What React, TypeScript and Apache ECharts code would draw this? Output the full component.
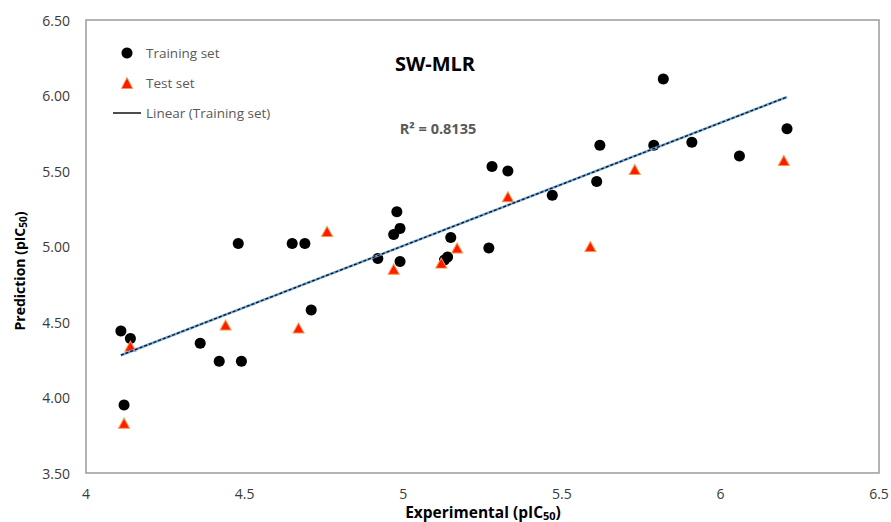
import React, { useEffect, useRef } from "react";
import * as echarts from "echarts";

// Training set (Experimental, Predicted)
const trainX = [4.11, 4.14, 4.12, 4.36, 4.42, 4.49, 4.48, 4.65, 4.69, 4.71, 4.92, 4.97, 4.98, 4.99, 4.99, 5.13, 5.14, 5.15, 5.27, 5.28, 5.33, 5.47, 5.61, 5.62, 5.79, 5.82, 5.91, 6.06, 6.21];
const trainY = [4.44, 4.39, 3.95, 4.36, 4.24, 4.24, 5.02, 5.02, 5.02, 4.58, 4.92, 5.08, 5.23, 5.12, 4.9, 4.91, 4.93, 5.06, 4.99, 5.53, 5.5, 5.34, 5.43, 5.67, 5.67, 6.11, 5.69, 5.6, 5.78];

// Test set
const testX = [4.12, 4.14, 4.44, 4.67, 4.76, 4.97, 5.12, 5.17, 5.33, 5.59, 5.73, 6.2];
const testY = [3.83, 4.34, 4.48, 4.46, 5.1, 4.85, 4.89, 4.99, 5.33, 5.0, 5.51, 5.57];

// Linear trendline (Training set) end points
const trendX = [4.11, 6.21];
const trendY = [4.28, 5.99];

const xMin = 4;
const xMax = 6.5;
const xStep = 0.5;
const yMin = 3.5;
const yMax = 6.5;
const yStep = 0.5;

const chartTitle = "SW-MLR";
const r2Label = "R² = 0.8135";
const seriesNames = ["Training set", "Test set", "Linear (Training set)"];

const FONT = "'Open Sans', 'Liberation Sans', sans-serif";

export default function App() {
  const ref = useRef<HTMLDivElement>(null);

  useEffect(() => {
    if (!ref.current) return;
    const chart = echarts.init(ref.current, null, { renderer: "svg" });

    const pair = (xs: number[], ys: number[]) => xs.map((x, i) => [x, ys[i]]);

    chart.setOption({
      animation: false,
      backgroundColor: "#ffffff",
      grid: {
        left: 86,
        right: 12,
        top: 20,
        bottom: 49,
        show: true,
        borderColor: "#9a9a9a",
        borderWidth: 1.5,
        backgroundColor: "transparent",
        containLabel: false,
        outerBoundsMode: "none",
      },
      xAxis: {
        type: "value",
        min: xMin,
        max: xMax,
        interval: xStep,
        axisLine: { show: false },
        axisTick: { show: false },
        splitLine: { show: false },
        axisLabel: {
          color: "#3a3a3a",
          fontFamily: FONT,
          fontSize: 14,
          lineHeight: 14,
          margin: 13,
        },
      },
      yAxis: {
        type: "value",
        min: yMin,
        max: yMax,
        interval: yStep,
        axisLine: { show: false },
        axisTick: { show: false },
        splitLine: { show: false },
        axisLabel: {
          color: "#3a3a3a",
          fontFamily: FONT,
          fontSize: 14,
          margin: 16,
          formatter: (v: number) => v.toFixed(2),
        },
      },
      legend: {
        orient: "vertical",
        left: 113,
        top: 46,
        padding: 0,
        itemGap: 16,
        itemWidth: 28,
        itemHeight: 11,
        symbolKeepAspect: true,
        selectedMode: false,
        textStyle: { color: "#595959", fontFamily: FONT, fontSize: 13.5 },
        data: [
          { name: seriesNames[0], icon: "circle", itemStyle: { color: "#000000", opacity: 1 } },
          {
            name: seriesNames[1],
            icon: "path://M5,0 L10,10 L0,10 Z",
            itemStyle: { color: "#ff1a00", borderColor: "#f79646", borderWidth: 1, opacity: 1 },
          },
          {
            name: seriesNames[2],
            icon: "path://M0,0 L32,0 L32,1.6 L0,1.6 Z",
            itemStyle: { color: "#000000", borderWidth: 0, opacity: 1 },
          },
        ],
      },
      series: [
        {
          name: seriesNames[0],
          type: "scatter",
          data: pair(trainX, trainY),
          symbol: "circle",
          symbolSize: 11,
          itemStyle: { color: "#000000", opacity: 1 },
          z: 2,
        },
        {
          name: seriesNames[1],
          type: "scatter",
          data: pair(testX, testY),
          symbol: "triangle",
          symbolSize: [11, 10],
          itemStyle: { color: "#ff1a00", borderColor: "#f79646", borderWidth: 1, opacity: 1 },
          z: 3,
        },
        {
          name: "trend-under",
          type: "line",
          data: pair(trendX, trendY),
          symbol: "none",
          lineStyle: { color: "#6fa8dc", width: 2.5, type: "solid" },
          z: 4,
          silent: true,
        },
        {
          name: seriesNames[2],
          type: "line",
          data: pair(trendX, trendY),
          symbol: "none",
          itemStyle: { color: "#000000" },
          lineStyle: { color: "#111111", width: 1.3, type: [3, 2] },
          z: 5,
          silent: true,
        },
      ],
      graphic: [
        {
          type: "text",
          x: 435,
          y: 63,
          style: {
            text: chartTitle,
            fontFamily: FONT,
            fontSize: 20,
            fontWeight: "bold",
            fill: "#000000",
            align: "center",
            verticalAlign: "middle",
          },
        },
        {
          type: "text",
          x: 438,
          y: 128,
          style: {
            text: r2Label,
            fontFamily: FONT,
            fontSize: 14.5,
            fontWeight: "bold",
            fill: "#595959",
            align: "center",
            verticalAlign: "middle",
          },
        },
        {
          type: "text",
          x: 483,
          y: 512,
          style: {
            text: "{a|Experimental (pIC}{s|50}{a|)}",
            align: "center",
            verticalAlign: "middle",
            rich: {
              a: { fontFamily: FONT, fontSize: 15.5, fontWeight: "bold", fill: "#000000", lineHeight: 13 },
              s: {
                fontFamily: FONT,
                fontSize: 11,
                fontWeight: "bold",
                fill: "#000000",
                lineHeight: 13,
                verticalAlign: "middle",
                padding: [7, 0, 0, 0],
              },
            },
          },
        },
        {
          type: "text",
          x: 19,
          y: 271,
          rotation: Math.PI / 2,
          style: {
            text: "{a|Prediction (pIC}{s|50}{a|)}",
            align: "center",
            verticalAlign: "middle",
            rich: {
              a: { fontFamily: FONT, fontSize: 14, fontWeight: "bold", fill: "#000000", lineHeight: 14 },
              s: {
                fontFamily: FONT,
                fontSize: 10,
                fontWeight: "bold",
                fill: "#000000",
                lineHeight: 14,
                verticalAlign: "middle",
                padding: [7, 0, 0, 0],
              },
            },
          },
        },
      ],
    });

    return () => chart.dispose();
  }, []);

  return (
    <div
      ref={ref}
      style={{ position: "fixed", left: 0, top: 0, width: 891, height: 522, background: "#fff" }}
    />
  );
}
